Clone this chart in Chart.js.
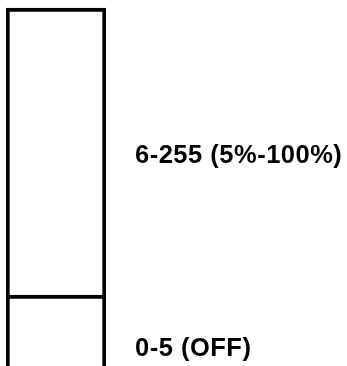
<!DOCTYPE html>
<html>
<head>
<meta charset="utf-8">
<script src="https://cdn.jsdelivr.net/npm/chart.js@4.4.0/dist/chart.umd.min.js"></script>
<style>
  html, body { margin: 0; padding: 0; background: #fff; }
  #wrap { width: 347px; height: 366px; }
</style>
</head>
<body>
<div id="wrap"><canvas id="chartRange"></canvas></div>
<script>
// range bands, in drawing units counted up from the bottom edge
var categories = ['DMX'];
var rangeNames = ['0-5 (OFF)', '6-255 (5%-100%)'];
var bandHeights = [71, 287];
var labelLevels = [17, 210];

var rangeLabels = {
  id: 'rangeLabels',
  afterDraw: function(chart) {
    var ctx = chart.ctx;
    var y = chart.scales.y;
    ctx.save();
    ctx.font = 'bold 25.5px "Liberation Sans", Arial, sans-serif';
    ctx.letterSpacing = '0.5px';
    ctx.fillStyle = '#000';
    ctx.textBaseline = 'middle';
    ctx.textAlign = 'left';
    for (var i = 0; i < rangeNames.length; i++) {
      ctx.fillText(rangeNames[i], 135, y.getPixelForValue(labelLevels[i]));
    }
    ctx.restore();
  }
};

var ctx = document.getElementById('chartRange').getContext('2d');
var chartRange = new Chart(ctx, {
  type: 'bar',
  data: {
    labels: categories,
    datasets: rangeNames.map(function(name, i) {
      return {
        label: name,
        data: [bandHeights[i]],
        backgroundColor: '#fff',
        borderColor: '#000',
        borderWidth: 4,
        borderSkipped: 'start',
        barPercentage: 1,
        categoryPercentage: 1
      };
    })
  },
  options: {
    responsive: true,
    maintainAspectRatio: false,
    animation: false,
    layout: { padding: { left: 6, right: 241, top: 0, bottom: 0 } },
    scales: {
      x: { display: false, stacked: true },
      y: { display: false, stacked: true, min: 0, max: 366 }
    },
    plugins: {
      legend: { display: false },
      tooltip: { enabled: false }
    }
  },
  plugins: [rangeLabels]
});
</script>
</body>
</html>
